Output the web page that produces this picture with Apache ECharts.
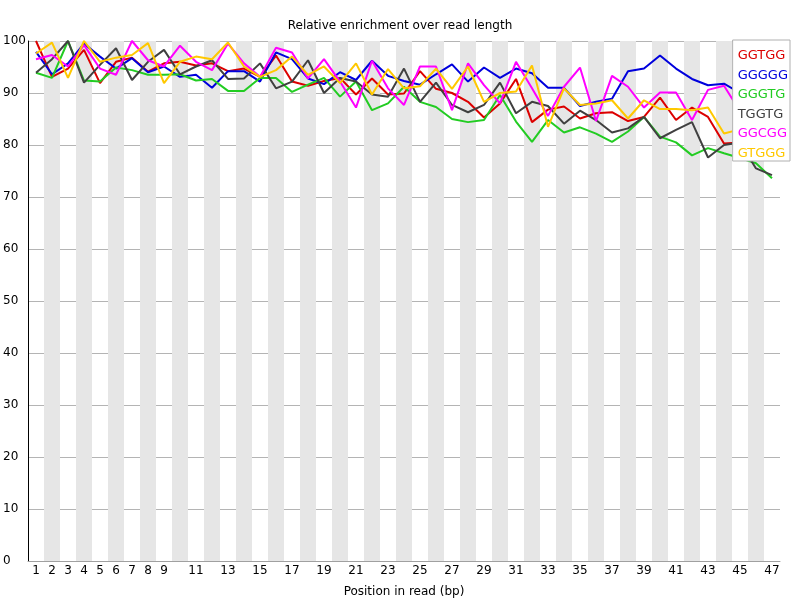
<!DOCTYPE html>
<html>
<head>
<meta charset="utf-8">
<script src="https://cdn.jsdelivr.net/npm/echarts@6/dist/echarts.min.js"></script>
<style>
  html, body { margin: 0; padding: 0; background: #fff; }
  #chart { width: 800px; height: 600px; }
</style>
</head>
<body>
<div id="chart"></div>
<script>
const positions = Array.from({ length: 47 }, (_, i) => String(i + 1));
const kmers = ["GGTGG", "GGGGG", "GGGTG", "TGGTG", "GGCGG", "GTGGG"];
const colors = ["#dc0000", "#0000dc", "#22cc22", "#404040", "#ff00ff", "#ffc800"];

const ggtgg = [100, 93.1, 94.7, 98.3, 91.9, 96.0, 96.8, 94.1, 95.7, 96.0, 95.3, 95.7, 94.2, 94.7, 93.1, 97.2,
  92.2, 91.4, 92.3, 92.9, 89.7, 92.8, 89.7, 89.9, 94.2, 90.8, 90.0, 88.3, 85.3, 88.0, 92.7, 84.4,
  86.8, 87.4, 85.1, 86.1, 86.3, 84.6, 85.4, 89.1, 84.8, 87.2, 85.4, 80.3, 80.5, 80.0, 79.5];
const ggggg = [97.9, 93.6, 95.7, 99.5, 97.0, 94.7, 96.7, 94.0, 95.1, 93.1, 93.5, 91.0, 94.2, 94.2, 92.2, 97.8,
  96.5, 92.8, 91.7, 94.0, 92.5, 96.2, 93.3, 92.3, 91.6, 93.6, 95.5, 92.2, 94.9, 92.9, 94.7, 93.8,
  91.0, 91.0, 87.5, 88.3, 88.9, 94.2, 94.7, 97.2, 94.7, 92.7, 91.5, 91.8, 90.0, 88.5, 87.5];
const gggtg = [93.9, 92.9, 100, 92.4, 92.2, 94.9, 94.4, 93.5, 93.5, 93.6, 92.4, 92.7, 90.4, 90.4, 92.9, 92.9,
  90.2, 91.6, 92.9, 89.3, 92.2, 86.7, 88.0, 91.2, 88.3, 87.3, 85.0, 84.4, 84.8, 89.6, 84.5, 80.6,
  84.8, 82.4, 83.4, 82.2, 80.6, 82.6, 85.4, 81.6, 80.5, 78.0, 79.4, 78.4, 77.5, 76.5, 73.6];
const tggtg = [93.9, 96.5, 100, 92.0, 95.4, 98.6, 92.5, 96.0, 98.3, 93.6, 95.1, 96.3, 92.7, 92.8, 95.7, 90.9,
  92.2, 96.3, 90.0, 92.9, 92.2, 89.7, 89.3, 94.7, 88.3, 92.0, 87.7, 86.3, 87.7, 92.0, 86.1, 88.3,
  87.5, 84.1, 86.6, 84.8, 82.4, 83.2, 85.4, 81.3, 82.9, 84.4, 77.6, 80.0, 80.5, 75.5, 74.2];
const ggcgg = [96.5, 97.3, 95.1, 99.2, 94.7, 93.5, 100, 96.3, 95.1, 99.1, 96.0, 94.4, 99.5, 95.7, 93.1, 98.7,
  97.8, 92.8, 96.5, 92.2, 87.2, 96.2, 90.9, 87.7, 95.1, 95.1, 86.7, 95.7, 91.5, 88.0, 96.0, 90.9,
  85.6, 91.2, 94.9, 84.6, 93.3, 91.2, 87.2, 90.1, 90.1, 84.8, 90.6, 91.4, 86.5, 84.0, 83.0];
const gtggg = [97.6, 99.7, 92.9, 100, 96.0, 96.8, 97.3, 99.6, 91.9, 96.0, 97.0, 96.5, 99.7, 95.1, 93.1, 94.4,
  97.0, 93.5, 95.1, 91.9, 95.7, 89.7, 94.6, 90.9, 91.3, 94.7, 90.8, 95.1, 88.3, 90.0, 90.3, 95.3,
  83.5, 90.9, 87.7, 88.0, 88.6, 85.1, 88.6, 86.9, 86.9, 86.7, 87.2, 82.2, 83.0, 82.0, 81.0];
const seriesData = [ggtgg, ggggg, gggtg, tggtg, ggcgg, gtggg];

const font = "DejaVu Sans";
const chart = echarts.init(document.getElementById("chart"));
chart.setOption({
  animation: false,
  color: colors,
  textStyle: { fontFamily: font },
  title: {
    text: "Relative enrichment over read length",
    left: "center",
    top: 15,
    textStyle: { fontFamily: font, fontSize: 12, fontWeight: "normal", color: "#000" },
  },
  legend: {
    orient: "vertical",
    right: 10,
    top: 40,
    icon: "none",
    itemWidth: 0,
    itemHeight: 14,
    itemGap: 6,
    padding: [9, 2, 1, 0],
    backgroundColor: "#fff",
    borderColor: "#b0b0b0",
    borderWidth: 1,
    borderRadius: 0,
    selectedMode: false,
    data: kmers.map((k, i) => ({ name: k, textStyle: { color: colors[i] } })),
    textStyle: { fontFamily: font, fontSize: 13 },
  },
  grid: { left: 28, right: 20, top: 41, bottom: 39, outerBoundsMode: "none" },
  xAxis: {
    type: "category",
    data: positions,
    name: "Position in read (bp)",
    nameLocation: "middle",
    nameGap: 25,
    nameTextStyle: { fontFamily: font, fontSize: 12, color: "#000" },
    axisLine: { lineStyle: { color: "#a0a0a0", width: 1 } },
    axisTick: { show: false },
    axisLabel: {
      interval: (i, v) => Number(v) <= 9 || Number(v) % 2 === 1,
      margin: 4,
      color: "#000",
      fontFamily: font,
      fontSize: 12,
    },
    splitArea: { show: true, interval: 0, areaStyle: { color: ["rgba(255,255,255,0)", "#e6e6e6"] } },
  },
  yAxis: {
    type: "value",
    min: 0,
    max: 100,
    interval: 10,
    axisLine: { show: true, lineStyle: { color: "#000", width: 1 } },
    axisTick: { show: false },
    axisLabel: { align: "left", margin: 25, color: "#000", fontFamily: font, fontSize: 12 },
    splitLine: { lineStyle: { color: "#b4b4b4", width: 1 } },
  },
  series: kmers.map((k, i) => ({
    name: k,
    type: "line",
    data: seriesData[i],
    symbol: "none",
    lineStyle: { width: 2 },
  })),
});
</script>
</body>
</html>
